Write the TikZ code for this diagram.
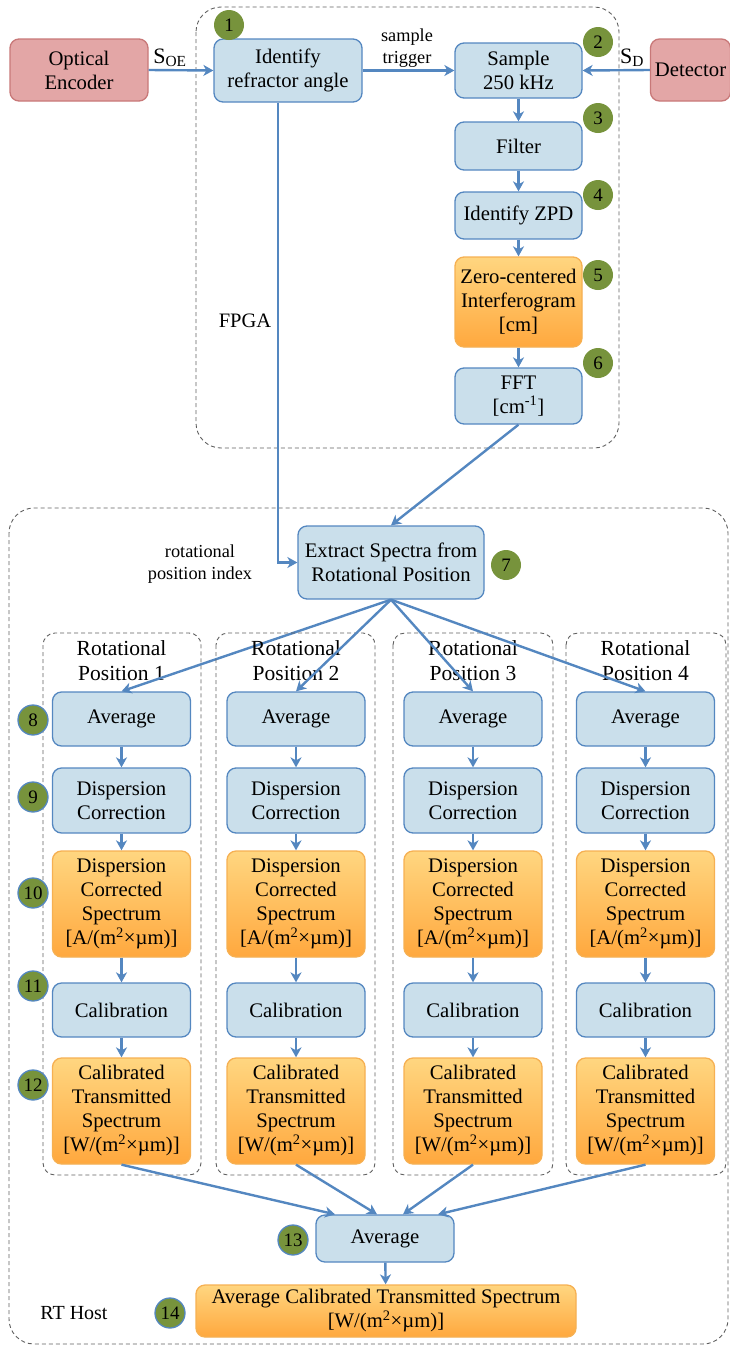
\documentclass[tikz,border=0pt]{standalone}
\usepackage{fontspec}
\setmainfont{Liberation Serif}
\usepackage{tikz}
\usetikzlibrary{arrows.meta, positioning}

\definecolor{boxblue}{RGB}{202,223,235}
\definecolor{lineblue}{RGB}{84,135,192}
\definecolor{encpink}{RGB}{227,166,166}
\definecolor{encline}{RGB}{200,120,120}
\definecolor{orgtop}{RGB}{255,214,128}
\definecolor{orgbot}{RGB}{255,168,62}
\definecolor{orgline}{RGB}{246,176,82}
\definecolor{stepgreen}{RGB}{119,147,60}
\definecolor{dashgray}{RGB}{95,95,95}

\tikzset{
  procbox/.style={draw=lineblue, fill=boxblue, line width=1.3pt, rounded corners=9pt,
    align=center, inner sep=0pt, font=\fontsize{20.7}{24}\selectfont},
  databox/.style={procbox, draw=orgline, top color=orgtop, bottom color=orgbot},
  devbox/.style={procbox, draw=encline, fill=encpink},
  stepnum/.style={circle, fill=stepgreen, minimum size=30pt, inner sep=0pt,
    font=\fontsize{19}{19}\selectfont},
  stepnumb/.style={stepnum, draw=lineblue, line width=1.3pt},
  smalltxt/.style={align=center, font=\fontsize{18.3}{22}\selectfont},
  grouptxt/.style={align=center, font=\fontsize{21.5}{25}\selectfont},
  sigtxt/.style={font=\fontsize{22}{22}\selectfont},
  groupbox/.style={draw=dashgray, line width=0.9pt, dash pattern=on 4pt off 3pt, rounded corners=#1},
  groupbox/.default=12pt,
  flow/.style={->, draw=lineblue, line width=2.4pt},
}

\begin{document}
\begin{tikzpicture}[x=1pt, y=-1pt, >={Stealth[length=10pt, width=11pt, inset=3pt]}]
    \useasboundingbox (0,0) rectangle (730,1347);

    % FPGA
    \draw[groupbox=25pt] (196,7) rectangle (619,448);
    \node[grouptxt, font=\fontsize{20.5}{24}\selectfont] (fpga) at (245,321) {FPGA};

    \node[devbox, minimum width=138pt, minimum height=62pt] (enc) at (79,70) {Optical\\Encoder};
    \node[procbox, minimum width=148pt, minimum height=63pt] (ident) at (288,70.5) {Identify\\refractor angle};
    \node[procbox, minimum width=127pt, minimum height=55pt] (samp) at (518.5,70.5) {Sample\\250 kHz};
    \node[devbox, minimum width=80pt, minimum height=62pt] (det) at (690.5,70) {Detector};
    \node[procbox, minimum width=127pt, minimum height=48pt] (filt) at (518.5,146) {Filter};
    \node[procbox, minimum width=127pt, minimum height=47pt] (zpd) at (518.5,215.5) {Identify ZPD};
    \node[databox, minimum width=127pt, minimum height=90pt] (zero) at (518.5,302) {Zero-centered\\Interferogram\\{}[cm]};
    \node[procbox, minimum width=127pt, minimum height=56pt] (fft) at (518.5,396) {FFT\\{}[cm\textsuperscript{-1}]};

    \node[sigtxt] (soe) at (170,58) {S\textsubscript{OE}};
    \node[sigtxt] (sd) at (632,58) {S\textsubscript{D}};
    \node[smalltxt] (trig) at (407,48) {sample\\trigger};

    \draw[flow] (enc.east) -- (ident.west);
    \draw[flow] (ident.east) -- (samp.west);
    \draw[flow] (det.west) -- (samp.east);
    \draw[flow] (samp) -- (filt);
    \draw[flow] (filt) -- (zpd);
    \draw[flow] (zpd) -- (zero);
    \draw[flow] (zero) -- (fft);

    % RT Host
    \draw[groupbox=25pt] (9,508) rectangle (728,1344);
    \node[grouptxt, font=\fontsize{20}{24}\selectfont] (rthost) at (74,1313) {RT Host};

    \node[procbox, minimum width=186pt, minimum height=73pt] (ext) at (391,562.5) {Extract Spectra from\\Rotational Position};
    \node[smalltxt] (rpi) at (200,564) {rotational\\position index};

    \draw[flow] (fft.south) -- (ext.north);
    \draw[flow] ([xshift=-10pt]ident.south) |- (ext.west);

    % one column per rotational position
    \foreach \k/\cx/\bl/\br in {1/121.5/43/201, 2/296/216/375, 3/473/393/553, 4/645.5/566/726} {
        \draw[groupbox] (\bl,633) rectangle (\br,1175);
        \node[grouptxt] (title\k) at (\cx,660.5) {Rotational\\Position \k};
        \node[procbox, minimum width=138pt, minimum height=54pt] (avg\k) at (\cx,719) {Average};
        \node[procbox, minimum width=138pt, minimum height=65pt] (disp\k) at (\cx,800.5) {Dispersion\\Correction};
        \node[databox, minimum width=138pt, minimum height=106pt] (dcs\k) at (\cx,904) {Dispersion\\Corrected\\Spectrum\\{}[A/(m\textsuperscript{2}×µm)]};
        \node[procbox, minimum width=138pt, minimum height=54pt] (cal\k) at (\cx,1010) {Calibration};
        \node[databox, minimum width=138pt, minimum height=106pt] (cts\k) at (\cx,1111) {Calibrated\\Transmitted\\Spectrum\\{}[W/(m\textsuperscript{2}×µm)]};
        \draw[flow] (ext.south) -- (avg\k.north);
        \draw[flow] (avg\k) -- (disp\k);
        \draw[flow] (disp\k) -- (dcs\k);
        \draw[flow] (dcs\k) -- (cal\k);
        \draw[flow] (cal\k) -- (cts\k);
    }

    \node[procbox, minimum width=138pt, minimum height=47pt] (avgall) at (385,1238.5) {Average};
    \node[databox, minimum width=380pt, minimum height=52pt] (final) at (386,1311) {Average Calibrated Transmitted Spectrum\\{}[W/(m\textsuperscript{2}×µm)]};

    \foreach \k/\dx in {1/-50, 2/-8, 3/18, 4/53}
        \draw[flow] (cts\k.south) -- ([xshift=\dx pt]avgall.north);
    \draw[flow] (avgall) -- (final);

    % step numbers
    \foreach \n/\px/\py in {1/229/25, 2/598/42, 3/598/118, 4/598/195, 5/598/275, 6/598/363, 7/506/565}
        \node[stepnum] (s\n) at (\px,\py) {\n};
    \foreach \n/\px/\py in {8/33/720, 9/33/797, 10/33/893, 11/33/986, 12/33/1085, 13/293/1240, 14/170/1313}
        \node[stepnumb] (s\n) at (\px,\py) {\n};
\end{tikzpicture}
\end{document}
